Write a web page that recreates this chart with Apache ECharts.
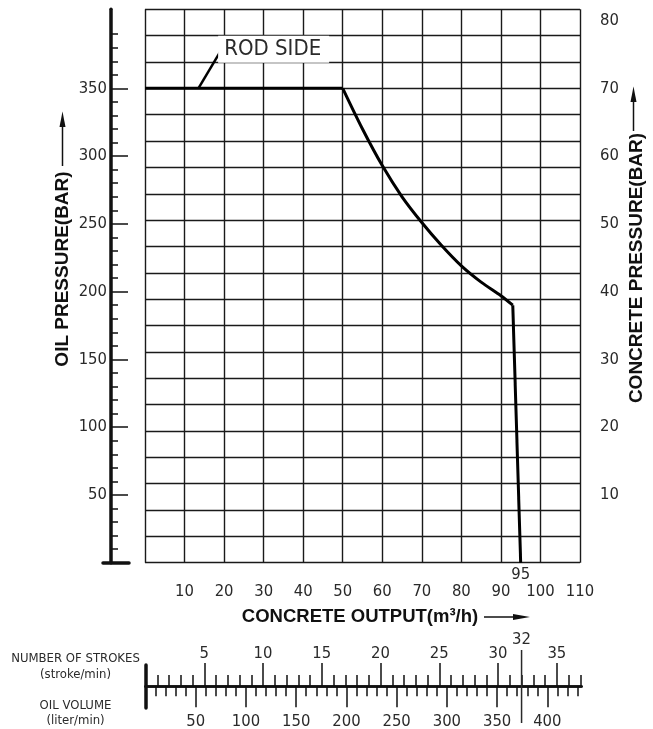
<!DOCTYPE html>
<html>
<head>
<meta charset="utf-8">
<script src="https://cdn.jsdelivr.net/npm/echarts@6/dist/echarts.min.js"></script>
<style>
  html, body { margin: 0; padding: 0; background: #fff; }
  #chart { width: 653px; height: 729px; }
</style>
</head>
<body>
<div id="chart"></div>
<script>
// concrete output axis (m3/h)
const outputTicks = [10, 20, 30, 40, 50, 60, 70, 80, 90, 100, 110];
// oil pressure labels (bar) and concrete pressure labels (bar)
const oilTicks = [50, 100, 150, 200, 250, 300, 350];
const concreteTicks = [10, 20, 30, 40, 50, 60, 70, 80];
// pressure curve: [output, oil pressure]
const plateau = [[0, 350], [50, 350]];
const powerCurve = [
  [50, 350], [55, 320], [60, 293], [65, 270], [70, 251],
  [75, 234], [80, 219], [85, 207], [90, 197], [93, 190]
];
const dropLine = [[93, 190], [95, 0]];
// leader line of the "ROD SIDE" note
const rodSide = [[13.5, 350], [19, 377]];
// bottom scale
const strokeTicks = [5, 10, 15, 20, 25, 30, 35];
const volumeTicks = [50, 100, 150, 200, 250, 300, 350, 400];
const strokeMark = [[32, 0], [32, 1]];

const gridStep = 350 / 18;       // 21 grid rows, 350 bar sits on row 18
const oilMax = gridStep * 21;
const concreteMax = oilMax / 5;

const numFont = "'Liberation Sans Narrow', 'DejaVu Sans Condensed', sans-serif";
const titleFont = "bold 19px 'Liberation Sans', Arial, sans-serif";
const ink = '#111';
const txt = '#2a2a2a';

const myChart = echarts.init(document.getElementById('chart'));

const numLabel = (extra) => Object.assign({
  fontFamily: numFont, fontSize: 16.5, color: txt
}, extra);

// label only on the last point of a small line
const lastLabelled = (pts, label) => pts.map((p, i) => i === pts.length - 1 ? { value: p, label: label } : p);

const lineSeries = (data, xi, yi, color, width, extra) => Object.assign({
  type: 'line', xAxisIndex: xi, yAxisIndex: yi, data: data,
  symbol: 'circle', symbolSize: 0,
  lineStyle: { color: color, width: width },
  itemStyle: { color: color },
  emphasis: { disabled: true }
}, extra);

const option = {
  animation: false,
  grid: [
    { left: 145, right: 73, top: 9.3, bottom: 166.3 },          // main
    { left: 103, width: 26, top: 9.3, bottom: 166.3 },          // left oil axis
    { left: 145.5, width: 436, top: 686, height: 1 },           // strokes / volume
    { left: 145.5, width: 436, top: 665, height: 43 },          // start bar
    { left: 145.5, width: 436, top: 650, height: 73 }           // 32 marker
  ],
  xAxis: [
    {
      gridIndex: 0, type: 'value', min: 0, max: 110, interval: 10,
      axisLine: { show: false, onZero: false },
      axisTick: { show: false },
      splitLine: { show: true, lineStyle: { color: '#1a1a1a', width: 1.4 } },
      axisLabel: numLabel({ customValues: outputTicks, margin: 21 })
    },
    {
      gridIndex: 1, type: 'value', min: 0, max: 1,
      axisLine: { show: true, onZero: false, lineStyle: { color: ink, width: 3.5 } },
      axisTick: { show: false }, axisLabel: { show: false }, splitLine: { show: false }
    },
    {
      gridIndex: 2, type: 'value', position: 'top', min: 0, max: 37.1, interval: 5,
      axisLine: { show: true, onZero: false, lineStyle: { color: ink, width: 2.5 } },
      axisTick: { show: true, customValues: strokeTicks, length: 23, lineStyle: { color: ink, width: 1.5 } },
      minorTick: { show: true, splitNumber: 5, length: 11, lineStyle: { color: ink, width: 1.5 } },
      axisLabel: numLabel({ customValues: strokeTicks, margin: 24 }),
      splitLine: { show: false },
      name: 'NUMBER OF STROKES\n(stroke/min)',
      nameLocation: 'start', nameGap: 70,
      nameTextStyle: {
        fontFamily: numFont, fontSize: 13, color: txt, lineHeight: 16,
        align: 'center', verticalAlign: 'bottom', padding: [0, 0, 3, 0]
      }
    },
    {
      gridIndex: 2, type: 'value', position: 'bottom', min: 0, max: 434, interval: 50,
      axisLine: { show: true, onZero: false, lineStyle: { color: ink, width: 2.5 } },
      axisTick: { show: true, customValues: volumeTicks, length: 21, lineStyle: { color: ink, width: 1.5 } },
      minorTick: { show: true, splitNumber: 5, length: 10, lineStyle: { color: ink, width: 1.5 } },
      axisLabel: numLabel({ customValues: volumeTicks, margin: 27 }),
      splitLine: { show: false },
      name: 'OIL VOLUME\n(liter/min)',
      nameLocation: 'start', nameGap: 70,
      nameTextStyle: {
        fontFamily: numFont, fontSize: 13, color: txt, lineHeight: 15,
        align: 'center', verticalAlign: 'top', padding: [12, 0, 0, 0]
      }
    },
    { gridIndex: 3, type: 'value', min: 0, max: 1, show: false },
    { gridIndex: 4, type: 'value', min: 0, max: 37.1, show: false }
  ],
  yAxis: [
    {
      gridIndex: 0, type: 'value', min: 0, max: oilMax, interval: gridStep,
      axisLine: { show: false, onZero: false }, axisTick: { show: false }, axisLabel: { show: false },
      splitLine: { show: true, lineStyle: { color: '#1a1a1a', width: 1.4 } }
    },
    {
      gridIndex: 0, type: 'value', position: 'right', min: 0, max: concreteMax, interval: 10,
      axisLine: { show: false, onZero: false }, axisTick: { show: false }, splitLine: { show: false },
      axisLabel: numLabel({ customValues: concreteTicks, margin: 20 })
    },
    {
      gridIndex: 1, type: 'value', min: 0, max: oilMax, interval: 50, offset: -8,
      axisLine: { show: true, onZero: false, lineStyle: { color: ink, width: 3.5 } },
      axisTick: { show: true, inside: true, customValues: oilTicks, length: 17, lineStyle: { color: ink, width: 1.5 } },
      minorTick: { show: true, splitNumber: 5, length: 7, lineStyle: { color: ink, width: 1.5 } },
      axisLabel: numLabel({ customValues: oilTicks, margin: 4 }),
      splitLine: { show: false }
    },
    { gridIndex: 2, type: 'value', min: 0, max: 1, show: false },
    {
      gridIndex: 3, type: 'value', min: 0, max: 1,
      axisLine: { show: true, onZero: false, lineStyle: { color: ink, width: 3.5 } },
      axisTick: { show: false }, axisLabel: { show: false }, splitLine: { show: false }
    },
    { gridIndex: 4, type: 'value', min: 0, max: 1, show: false }
  ],
  series: [
    lineSeries(plateau, 0, 0, '#000', 3),
    lineSeries(powerCurve, 0, 0, '#000', 3, { smooth: 0.3 }),
    lineSeries(lastLabelled(dropLine, numLabel({
      show: true, position: 'bottom', distance: 4, formatter: (d) => String(d.value[0])
    })), 0, 0, '#000', 3),
    lineSeries(lastLabelled(rodSide, {
      show: true, formatter: 'ROD SIDE', position: 'right', distance: -2, offset: [0, -2.5],
      fontFamily: numFont, fontSize: 22, color: txt,
      backgroundColor: '#fff', padding: [3, 8, 2, 6]
    }), 0, 0, '#000', 2.5),
    lineSeries(lastLabelled(strokeMark, numLabel({
      show: true, position: 'top', distance: 2, formatter: (d) => String(d.value[0])
    })), 5, 5, txt, 1.5)
  ],
  graphic: [
    { type: 'text', x: 63, y: 269, rotation: Math.PI / 2,
      style: { text: 'OIL PRESSURE(BAR)', font: titleFont, fill: ink, align: 'center', verticalAlign: 'middle' } },
    { type: 'line', shape: { x1: 62.5, y1: 166, x2: 62.5, y2: 122 }, style: { stroke: ink, lineWidth: 1.5 } },
    { type: 'polygon', shape: { points: [[62.5, 111.5], [59.5, 127], [65.5, 127]] }, style: { fill: ink } },

    { type: 'text', x: 637, y: 268, rotation: Math.PI / 2,
      style: { text: 'CONCRETE PRESSURE(BAR)', font: titleFont, fill: ink, align: 'center', verticalAlign: 'middle' } },
    { type: 'line', shape: { x1: 633.5, y1: 131, x2: 633.5, y2: 98 }, style: { stroke: ink, lineWidth: 1.5 } },
    { type: 'polygon', shape: { points: [[633.5, 86.5], [630.5, 102], [636.5, 102]] }, style: { fill: ink } },

    { type: 'text', x: 360, y: 617,
      style: { text: 'CONCRETE OUTPUT(m³/h)', font: "bold 18.5px 'Liberation Sans', Arial, sans-serif", fill: ink, align: 'center', verticalAlign: 'middle' } },
    { type: 'line', shape: { x1: 484, y1: 617, x2: 516, y2: 617 }, style: { stroke: ink, lineWidth: 1.5 } },
    { type: 'polygon', shape: { points: [[530, 617], [513, 614], [513, 620]] }, style: { fill: ink } }
  ]
};

myChart.setOption(option, true);
</script>
</body>
</html>
